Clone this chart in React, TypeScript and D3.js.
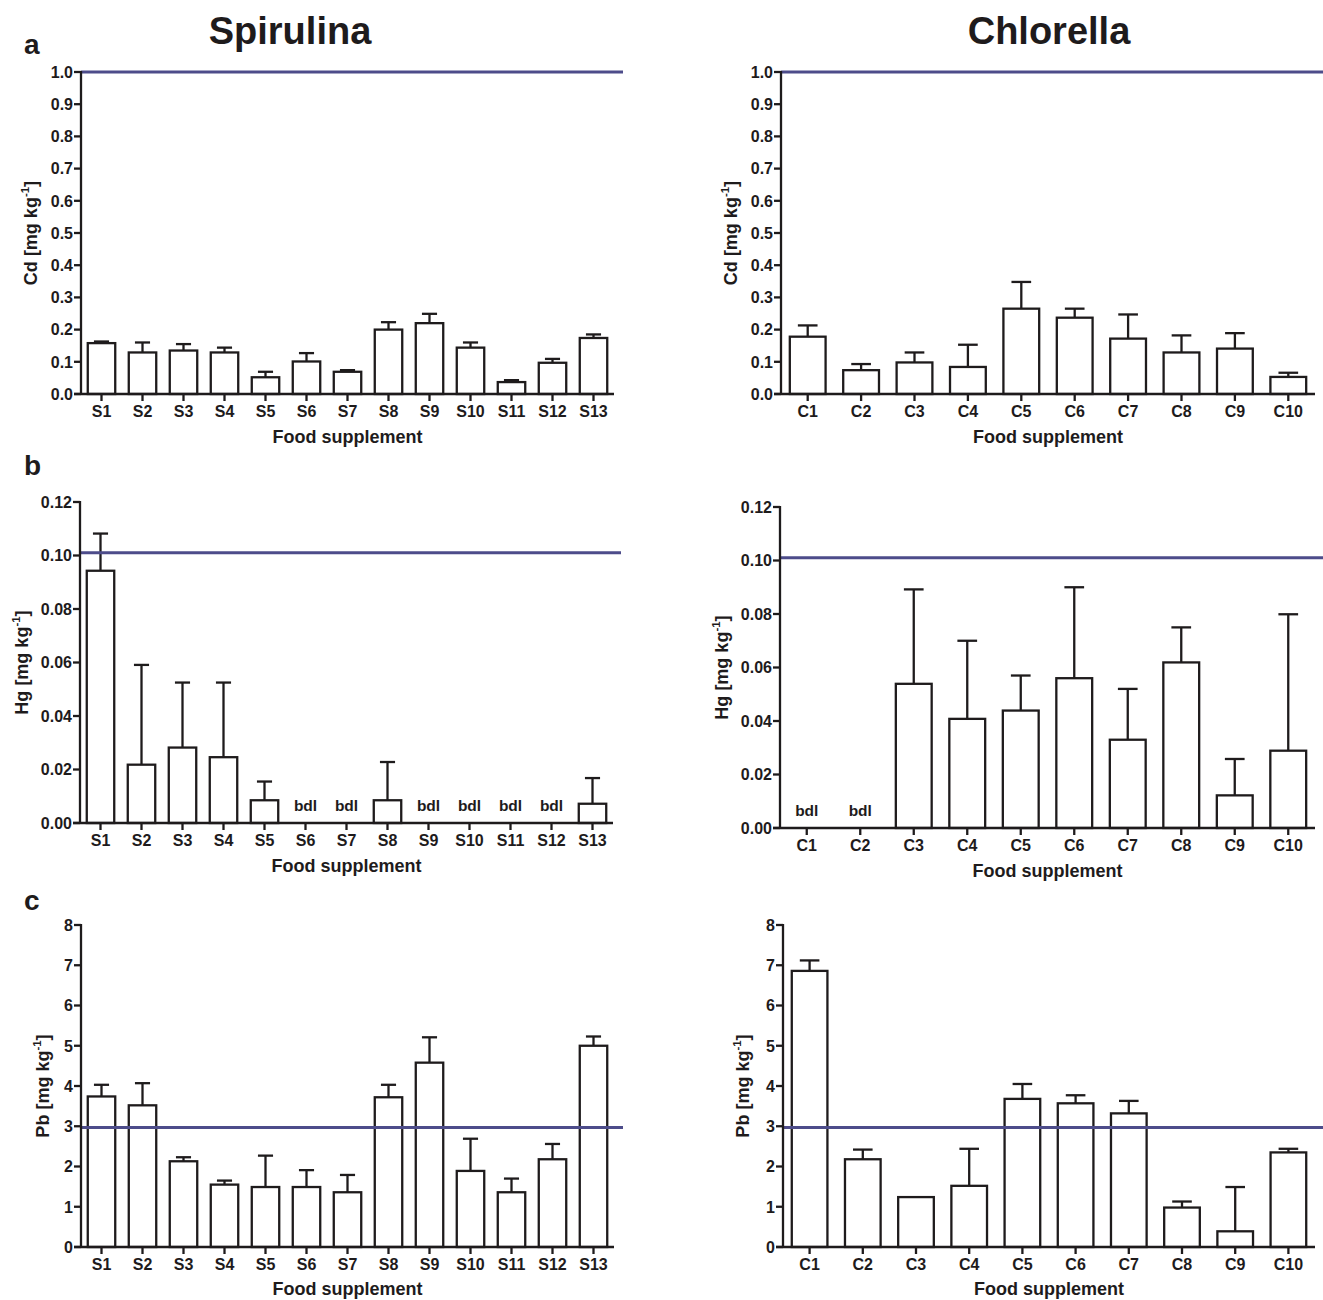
import React from "react";
import * as d3 from "d3";

// ---------- DATA ----------
const spCats = ["S1","S2","S3","S4","S5","S6","S7","S8","S9","S10","S11","S12","S13"];
const chCats = ["C1","C2","C3","C4","C5","C6","C7","C8","C9","C10"];

const spCd = [0.158,0.129,0.135,0.129,0.052,0.101,0.069,0.200,0.220,0.144,0.037,0.097,0.174];
const spCdErr = [0.163,0.160,0.155,0.144,0.069,0.127,0.074,0.223,0.249,0.160,0.043,0.109,0.185];
const chCd = [0.178,0.074,0.098,0.084,0.265,0.237,0.172,0.129,0.141,0.053];
const chCdErr = [0.213,0.093,0.129,0.153,0.348,0.265,0.247,0.182,0.189,0.066];

const spHg = [0.0943,0.0218,0.0282,0.0246,0.0085,null,null,0.0085,null,null,null,null,0.0072];
const spHgErr = [0.1082,0.0591,0.0525,0.0525,0.0155,null,null,0.0228,null,null,null,null,0.0168];
const chHg = [null,null,0.0539,0.0408,0.0439,0.0560,0.0330,0.0619,0.0122,0.0289];
const chHgErr = [null,null,0.0892,0.0700,0.0570,0.0900,0.0520,0.0750,0.0258,0.0799];

const spPb = [3.74,3.52,2.13,1.55,1.49,1.49,1.36,3.72,4.58,1.89,1.36,2.18,5.00];
const spPbErr = [4.03,4.07,2.23,1.65,2.27,1.91,1.79,4.03,5.21,2.69,1.70,2.56,5.23];
const chPb = [6.86,2.18,1.24,1.52,3.68,3.57,3.32,0.98,0.39,2.35];
const chPbErr = [7.12,2.42,null,2.44,4.05,3.77,3.63,1.13,1.49,2.44];

const cdTicks = [0,0.1,0.2,0.3,0.4,0.5,0.6,0.7,0.8,0.9,1.0];
const hgTicks = [0,0.02,0.04,0.06,0.08,0.10,0.12];
const pbTicks = [0,1,2,3,4,5,6,7,8];

const cdLimit = 1.0;
const hgLimit = 0.101;
const pbLimit = 2.97;

const FONT = "'Liberation Sans', Arial, Helvetica, sans-serif";
const LIMIT_COLOR = "#4d4c8a";

type PanelProps = {
  cats: string[];
  values: (number | null)[];
  errs: (number | null)[];
  ticks: number[];
  fmt: string;
  yMax: number;
  limit: number;
  xLeft: number;
  xRight: number;
  lineEnd: number;
  yTop: number;
  yBottom: number;
  element: string;
  titleX: number;
  catLabelY: number;
  xTitleY: number;
};

function Panel(p: PanelProps) {
  const x = d3.scaleBand<string>().domain(p.cats).range([p.xLeft, p.xRight]).paddingInner(0.33).paddingOuter(0.165);
  const y = d3.scaleLinear().domain([0, p.yMax]).range([p.yBottom, p.yTop]);
  const bw = x.bandwidth();
  const cap = bw * 0.55;
  const f = d3.format(p.fmt);
  const sw = 2.3;
  return (
    <g fontFamily={FONT} fontWeight="bold" fill="#1e1b1c">
      {p.cats.map((c, i) => {
        const v = p.values[i];
        const e = p.errs[i];
        const cx = (x(c) as number) + bw / 2;
        if (v === null) {
          return (
            <text key={c} x={cx} y={p.yBottom - 12} textAnchor="middle" fontSize={15.5}>bdl</text>
          );
        }
        return (
          <g key={c}>
            {e !== null && (
              <g stroke="#1e1b1c" strokeWidth={sw}>
                <line x1={cx} x2={cx} y1={y(v)} y2={y(e)} />
                <line x1={cx - cap / 2} x2={cx + cap / 2} y1={y(e)} y2={y(e)} />
              </g>
            )}
            <rect x={x(c)} y={y(v)} width={bw} height={p.yBottom - y(v)} fill="#fff" stroke="#1e1b1c" strokeWidth={sw} />
          </g>
        );
      })}
      <line x1={p.xLeft} x2={p.lineEnd} y1={y(p.limit)} y2={y(p.limit)} stroke={LIMIT_COLOR} strokeWidth={3} />
      <line x1={p.xLeft} x2={p.xLeft} y1={p.yBottom + 1} y2={p.yTop - 1} stroke="#1e1b1c" strokeWidth={sw} />
      {p.ticks.map((t) => (
        <g key={t}>
          <line x1={p.xLeft - 7} x2={p.xLeft} y1={y(t)} y2={y(t)} stroke="#1e1b1c" strokeWidth={sw} />
          <text x={p.xLeft - 8} y={y(t)} dy="0.36em" textAnchor="end" fontSize={16}>{f(t)}</text>
        </g>
      ))}
      <line x1={p.xLeft - 7} x2={p.xRight} y1={p.yBottom} y2={p.yBottom} stroke="#1e1b1c" strokeWidth={sw} />
      {p.cats.map((c) => {
        const cx = (x(c) as number) + bw / 2;
        return (
          <g key={c}>
            <line x1={cx} x2={cx} y1={p.yBottom} y2={p.yBottom + 7} stroke="#1e1b1c" strokeWidth={sw} />
            <text x={cx} y={p.catLabelY} textAnchor="middle" fontSize={16}>{c}</text>
          </g>
        );
      })}
      <text x={(p.xLeft + p.xRight) / 2} y={p.xTitleY} textAnchor="middle" fontSize={18}>Food supplement</text>
      <text transform={`translate(${p.titleX},${(p.yTop + p.yBottom) / 2}) rotate(-90)`} textAnchor="middle" dy="0.35em" fontSize={18}>
        {p.element} [mg kg<tspan fontSize={11.5} dy="-8">-1</tspan><tspan dy="8">]</tspan>
      </text>
    </g>
  );
}

export default function App() {
  return (
    <svg width={1323} height={1300} style={{ display: "block", position: "absolute", left: 0, top: 0, background: "#fff" }}>
      <rect width={1323} height={1300} fill="#fff" />
      <g fontFamily={FONT} fontWeight="bold" fill="#1e1b1c">
        <text x={290} y={44} textAnchor="middle" fontSize={38}>Spirulina</text>
        <text x={1049} y={44} textAnchor="middle" fontSize={38}>Chlorella</text>
        <text x={24} y={54} fontSize={28}>a</text>
        <text x={24} y={475} fontSize={28}>b</text>
        <text x={24} y={910} fontSize={28}>c</text>
      </g>
      <Panel cats={spCats} values={spCd} errs={spCdErr} ticks={cdTicks} fmt=".1f" yMax={1.0} limit={cdLimit}
        xLeft={81} xRight={614} lineEnd={623} yTop={72} yBottom={394} element="Cd" titleX={31} catLabelY={417} xTitleY={443} />
      <Panel cats={chCats} values={chCd} errs={chCdErr} ticks={cdTicks} fmt=".1f" yMax={1.0} limit={cdLimit}
        xLeft={781} xRight={1315} lineEnd={1323} yTop={72} yBottom={394} element="Cd" titleX={731} catLabelY={417} xTitleY={443} />
      <Panel cats={spCats} values={spHg} errs={spHgErr} ticks={hgTicks} fmt=".2f" yMax={0.12} limit={hgLimit}
        xLeft={80} xRight={613} lineEnd={621} yTop={502} yBottom={823} element="Hg" titleX={22} catLabelY={846} xTitleY={872} />
      <Panel cats={chCats} values={chHg} errs={chHgErr} ticks={hgTicks} fmt=".2f" yMax={0.12} limit={hgLimit}
        xLeft={780} xRight={1315} lineEnd={1323} yTop={507} yBottom={828} element="Hg" titleX={722} catLabelY={851} xTitleY={877} />
      <Panel cats={spCats} values={spPb} errs={spPbErr} ticks={pbTicks} fmt="d" yMax={8} limit={pbLimit}
        xLeft={81} xRight={614} lineEnd={623} yTop={925} yBottom={1247} element="Pb" titleX={43} catLabelY={1270} xTitleY={1295} />
      <Panel cats={chCats} values={chPb} errs={chPbErr} ticks={pbTicks} fmt="d" yMax={8} limit={pbLimit}
        xLeft={783} xRight={1315} lineEnd={1323} yTop={925} yBottom={1247} element="Pb" titleX={743} catLabelY={1270} xTitleY={1295} />
    </svg>
  );
}
